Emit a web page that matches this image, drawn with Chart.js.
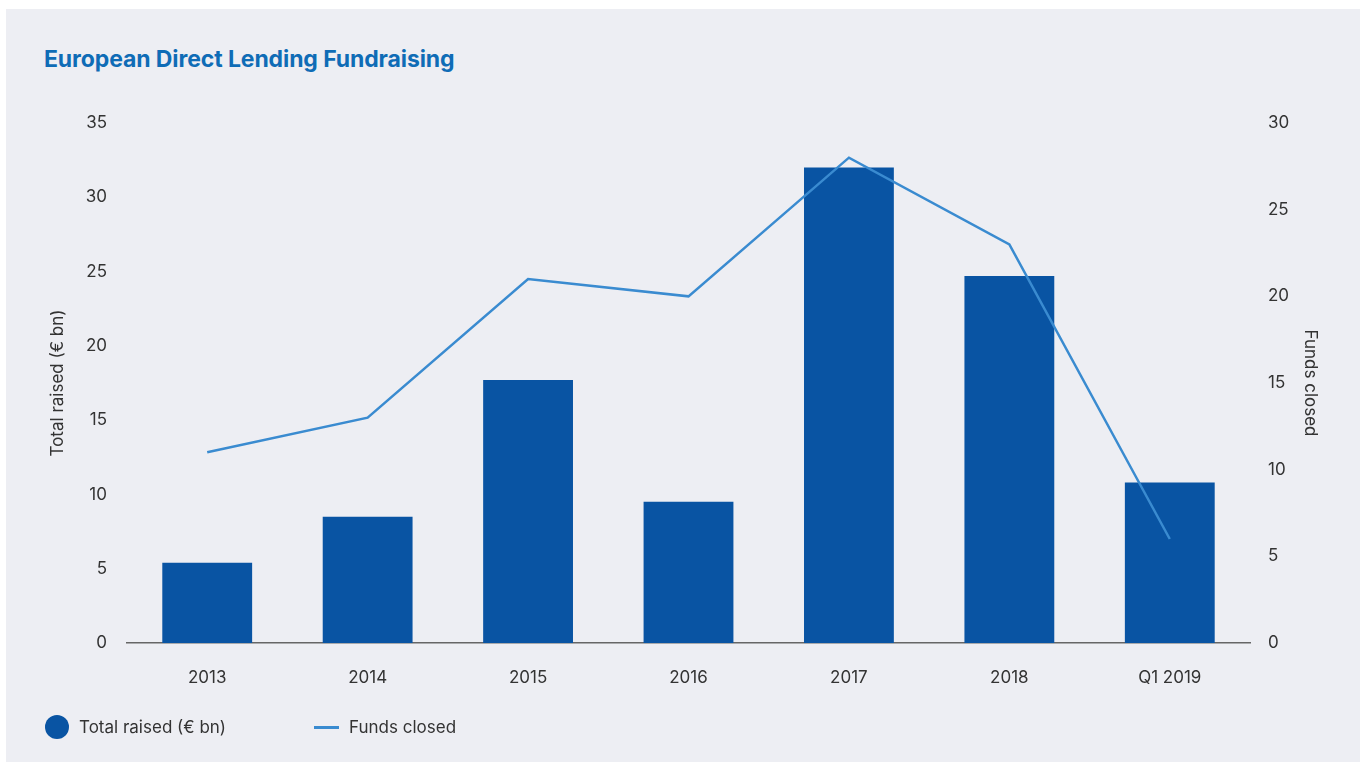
<!DOCTYPE html>
<html lang="en">
<head>
    <meta charset="UTF-8">
    <title>European Direct Lending Fundraising</title>
    <script src="https://cdn.jsdelivr.net/npm/chart.js"></script>
    <style>
        html, body { margin: 0; padding: 0; background: #fff; }
        body { width: 1360px; height: 762px; position: relative; overflow: hidden; font-family: Inter, "Open Sans", sans-serif; }
        .panel { position: absolute; left: 6px; top: 9px; right: 0; bottom: 0; background: #edeef3; }
        .title { position: absolute; left: 44px; top: 45px; margin: 0; font-size: 23px; font-weight: 700; color: #0f6cb6; letter-spacing: -0.1px; }
        .chart-box { position: absolute; left: 0; top: 0; width: 1360px; height: 762px; }
        .legend { position: absolute; left: 45px; top: 715px; display: flex; align-items: center; font-size: 17px; color: #333; }
        .legend .dot { width: 24px; height: 24px; border-radius: 50%; background: #0954a3; margin-right: 10px; }
        .legend .dash { width: 25px; height: 3px; background: #3a8bd0; margin: 0 10px 0 88px; }
    </style>
</head>
<body>
    <div class="panel"></div>
    <h1 class="title">European Direct Lending Fundraising</h1>
    <div class="chart-box"><canvas id="fundChart"></canvas></div>
    <div class="legend">
        <span class="dot"></span><span>Total raised (€ bn)</span>
        <span class="dash"></span><span>Funds closed</span>
    </div>

    <script>
        const years = ['2013', '2014', '2015', '2016', '2017', '2018', 'Q1 2019'];
        const totalRaised = [5.4, 8.5, 17.7, 9.5, 32.0, 24.7, 10.8];
        const fundsClosed = [11, 13, 21, 20, 28, 23, 6];
        const raisedTicks = [0, 5, 10, 15, 20, 25, 30, 35];
        const fundsTicks = [0, 5, 10, 15, 20, 25, 30];

        const tickFont = { family: 'Inter, "Open Sans", sans-serif', size: 17 };

        new Chart(document.getElementById('fundChart'), {
            type: 'bar',
            data: {
                labels: years,
                datasets: [
                    {
                        type: 'line',
                        label: 'Funds closed',
                        data: fundsClosed,
                        yAxisID: 'y1',
                        borderColor: '#3a8bd0',
                        borderWidth: 2.5,
                        pointRadius: 0,
                        tension: 0,
                        order: 0
                    },
                    {
                        label: 'Total raised (€ bn)',
                        data: totalRaised,
                        yAxisID: 'y',
                        backgroundColor: '#0954a3',
                        barPercentage: 0.56,
                        categoryPercentage: 1,
                        order: 1
                    }
                ]
            },
            options: {
                responsive: true,
                maintainAspectRatio: false,
                animation: false,
                layout: { padding: { left: 40, right: 30, top: 123, bottom: 59 } },
                plugins: { legend: { display: false }, tooltip: { enabled: false } },
                scales: {
                    x: {
                        grid: { display: false, drawTicks: false },
                        border: { display: true, color: '#666', width: 1.5 },
                        ticks: { color: '#333', font: tickFont, padding: 25 },
                        afterFit: s => { s.height = 60; }
                    },
                    y: {
                        position: 'left',
                        min: 0, max: 35,
                        afterBuildTicks: s => { s.ticks = raisedTicks.map(v => ({ value: v })); },
                        grid: { display: false, drawTicks: false },
                        border: { display: false },
                        ticks: { color: '#333', font: tickFont, padding: 20 },
                        title: { display: true, text: 'Total raised (€ bn)', color: '#333', font: tickFont, padding: { top: 8, bottom: 0 } },
                        afterFit: s => { s.width = 87; }
                    },
                    y1: {
                        position: 'right',
                        min: 0, max: 30,
                        afterBuildTicks: s => { s.ticks = fundsTicks.map(v => ({ value: v })); },
                        grid: { display: false, drawTicks: false },
                        border: { display: false },
                        ticks: { color: '#333', font: tickFont, padding: 18 },
                        title: { display: true, text: 'Funds closed', color: '#333', font: tickFont, padding: { top: 10, bottom: 0 } },
                        afterFit: s => { s.width = 80; }
                    }
                }
            }
        });
    </script>
</body>
</html>
